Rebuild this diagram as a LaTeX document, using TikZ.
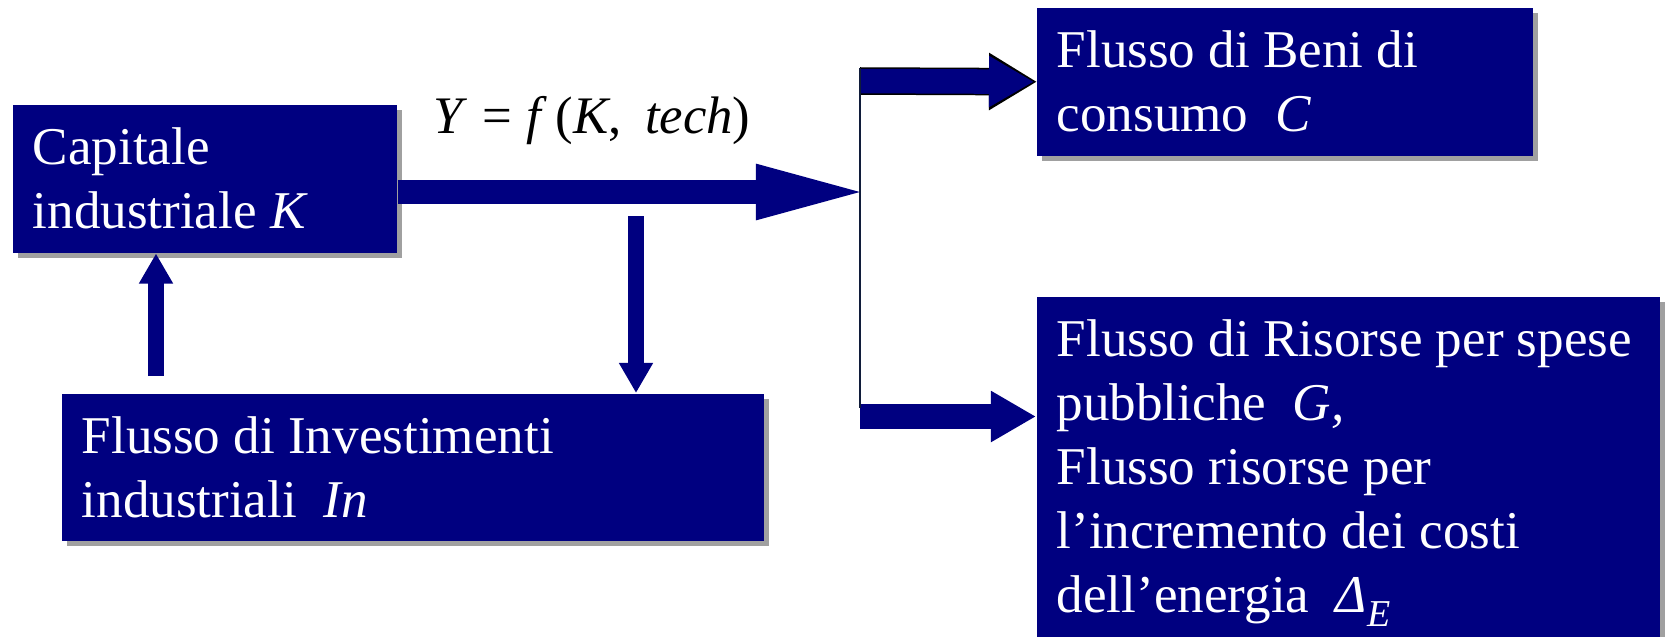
\documentclass[tikz,border=0pt]{standalone}
\usepackage{fontspec}
\setmainfont{Liberation Serif}
\usepackage{xcolor}
\definecolor{flowblue}{HTML}{000080}
\definecolor{flowshadow}{HTML}{A0A0A0}
\definecolor{flowline}{HTML}{101C3A}
\usepackage{tikz}
\usetikzlibrary{arrows.meta,calc,shadows}

\begin{document}
\begin{tikzpicture}[x=0.01cm, y=-0.01cm,
    box/.style={fill=flowblue, text=white, anchor=north west, inner xsep=0.2cm, inner ysep=0pt,
      font=\fontsize{15.1pt}{18.2pt}\selectfont,
      execute at begin node={\parindent=0pt\spaceskip=0.25em plus 0.1em minus 0.05em\relax},
      drop shadow={shadow xshift=0.05cm, shadow yshift=-0.05cm, fill=flowshadow, opacity=1}},
    flow/.style={draw=flowblue, line width=0.24cm, -{Triangle[length=1.19cm, width=0.48cm]}},
    feed/.style={draw=flowblue, line width=0.16cm, -{Triangle[length=0.3cm, width=0.32cm]}},
    branch/.style={draw=flowblue, line width=0.245cm, -{Triangle[length=0.45cm, width=0.48cm]}}
  ]
  \clip (0,0) rectangle (1667,636);
  \node[box, minimum width=3.84cm, text width=3.44cm, minimum height=1.48cm] (cap) at (12,104) {Capitale\\industriale \textit{K}};
  \node[box, minimum width=7.02cm, text width=6.62cm, minimum height=1.47cm] (invest) at (61,393) {Flusso di Investimenti\\industriali\ \ \textit{In}};
  \node[box, minimum width=4.96cm, text width=4.56cm, minimum height=1.48cm] (beni) at (1036,7) {Flusso di Beni di\\consumo\ \ \textit{C}};
  \node[box, minimum width=6.23cm, text width=5.83cm, minimum height=3.53cm] (risorse) at (1036,296) {Flusso di Risorse per spese\\pubbliche\ \ \textit{G,}\\Flusso risorse per\\l’incremento dei costi\\dell’energia\ \ \textit{Δ\raisebox{-0.26em}{\fontsize{10.8pt}{12pt}\selectfont E}}};
  \node[font=\fontsize{15pt}{18pt}\selectfont, anchor=base] (prod) at (592,133) {\textit{Y}\hspace{0.28em}=\hspace{0.28em}\textit{f}\hspace{0.15em}(\textit{K},\hspace{0.45em}\textit{tech})};

  \coordinate (split) at (860,192);
  \coordinate (topfoot) at (860,81);
  \coordinate (botfoot) at (860,416.5);
  \coordinate (upfoot) at ($(invest.north west)+(95,-17)$);
  \coordinate (downtop) at (636,216);

  \draw[flow] (cap.east |- split) -- ($(split)+(15,0)$);
  \draw[feed] (upfoot) -- (upfoot |- cap.south);
  \draw[feed] (downtop) -- (downtop |- invest.north);
  \draw[line width=0.275cm, -{Triangle[length=0.48cm, width=0.54cm]}] (topfoot) -- ($(beni.west)+(1,0)$);
  \draw[branch] (topfoot) -- ($(beni.west)+(-2,0)$);
  \draw[branch] (botfoot) -- (botfoot -| risorse.west);
  \draw[flowline, line width=0.02cm] (860,68) -- (860,408);
\end{tikzpicture}
\end{document}
